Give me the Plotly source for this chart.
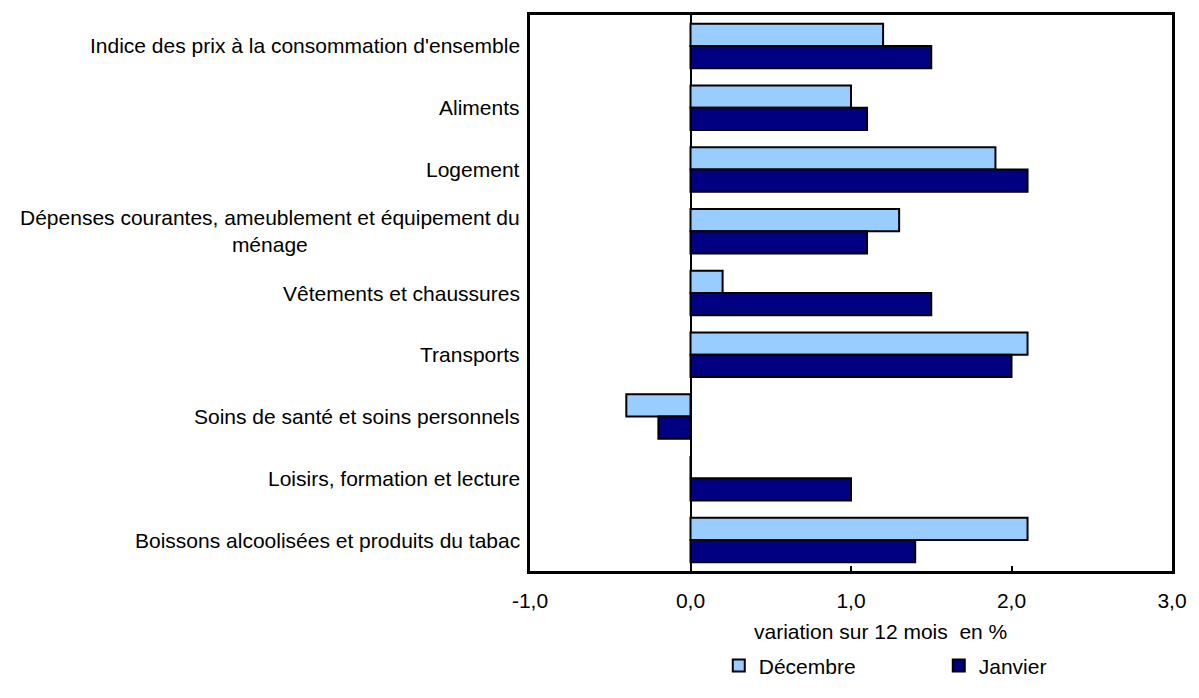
import plotly.graph_objects as go

categories = [
    "Indice des prix à la consommation d'ensemble",
    "Aliments",
    "Logement",
    "Dépenses courantes, ameublement et équipement du<br>ménage",
    "Vêtements et chaussures",
    "Transports",
    "Soins de santé et soins personnels",
    "Loisirs, formation et lecture",
    "Boissons alcoolisées et produits du tabac",
]
decembre = [1.2, 1.0, 1.9, 1.3, 0.2, 2.1, -0.4, 0.0, 2.1]
janvier = [1.5, 1.1, 2.1, 1.1, 1.5, 2.0, -0.2, 1.0, 1.4]
x_tick_vals = [-1.0, 0.0, 1.0, 2.0, 3.0]
x_tick_labels = ["-1,0", "0,0", "1,0", "2,0", "3,0"]

FONT = "Liberation Sans, Arial, sans-serif"
FS = 21

fig = go.Figure()
fig.add_trace(go.Bar(
    y=categories, x=decembre, orientation="h", name="Décembre",
    marker=dict(color="#99CCFF", line=dict(color="black", width=2)),
))
fig.add_trace(go.Bar(
    y=categories, x=janvier, orientation="h", name="Janvier",
    marker=dict(color="#000080", line=dict(color="black", width=2)),
))

for c in categories:
    fig.add_annotation(
        x=0, xref="paper", y=c, yref="y", text=c, showarrow=False,
        xanchor="right", yanchor="middle", align="center", xshift=-8,
        font=dict(family=FONT, size=FS, color="black"),
    )

fig.add_annotation(
    x=(887 - 530) / 653, xref="paper", y=-(653 - 590) / 575, yref="paper",
    text="variation sur 12 mois  en %", showarrow=False,
    xanchor="center", yanchor="middle",
    font=dict(family=FONT, size=FS, color="black"),
)

fig.update_layout(
    width=1199, height=698,
    margin=dict(l=530, r=16, t=15, b=108),
    paper_bgcolor="white", plot_bgcolor="white",
    barmode="group", bargap=0.28, bargroupgap=0,
    font=dict(family=FONT, size=FS, color="black"),
    showlegend=True,
    legend=dict(
        orientation="h", x=(722 - 530) / 653, xref="paper", y=-(688 - 590) / 575,
        yanchor="middle", xanchor="left",
        entrywidth=175, entrywidthmode="pixels",
        font=dict(family=FONT, size=FS, color="black"),
        bgcolor="rgba(0,0,0,0)",
    ),
    xaxis=dict(
        range=[-1, 3], tickvals=x_tick_vals, ticktext=x_tick_labels,
        ticks="inside", ticklen=5, tickwidth=2, tickcolor="black",
        showgrid=False, zeroline=True, zerolinecolor="black", zerolinewidth=2,
        showline=True, linecolor="black", linewidth=3, mirror=True,
        ticklabelstandoff=9,
        tickfont=dict(family=FONT, size=FS, color="black"),
    ),
    yaxis=dict(
        autorange="reversed", showticklabels=False, ticks="",
        showgrid=False, showline=True, linecolor="black", linewidth=3, mirror=True,
    ),
)

fig.write_html(
    "out.html",
    config={"displayModeBar": False},
    post_script=(
        "document.documentElement.style.margin='0';"
        "document.documentElement.style.overflow='hidden';"
        "document.body.style.margin='0';"
        "document.body.style.overflow='hidden';"
    ),
)
